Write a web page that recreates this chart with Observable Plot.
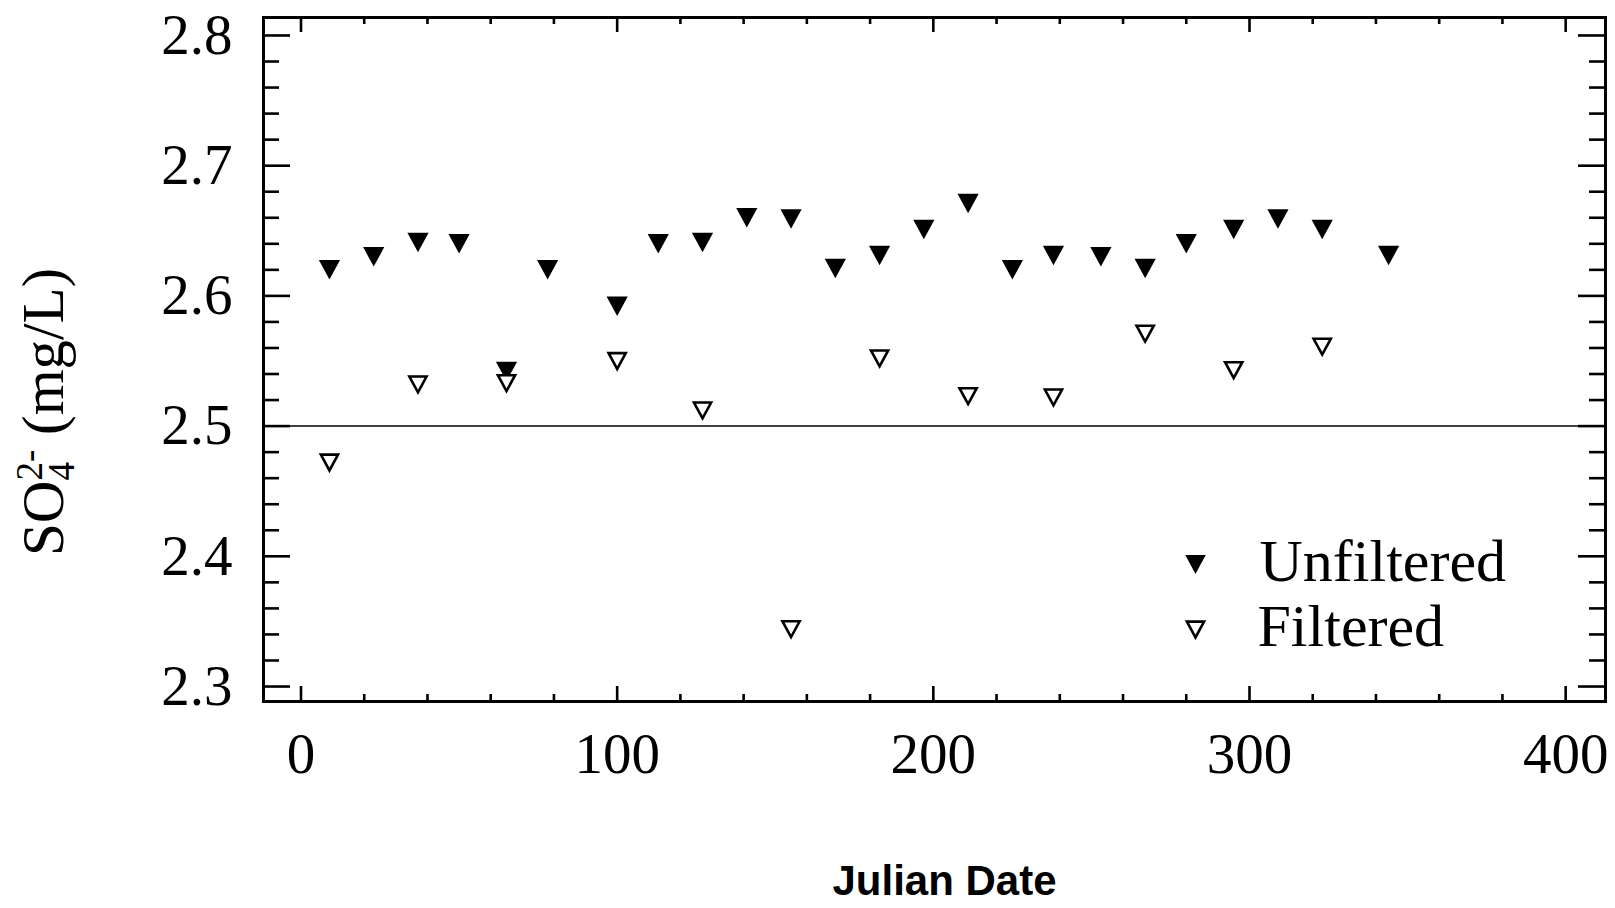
<!DOCTYPE html>
<html><head><meta charset="utf-8">
<script src="https://cdn.jsdelivr.net/npm/d3@7"></script>
<script src="https://cdn.jsdelivr.net/npm/@observablehq/plot@0.6"></script>
<style>html,body{margin:0;padding:0;background:#fff;overflow:hidden}#chart{width:1615px;height:908px;position:relative}</style>
</head><body><div id="chart"></div>
<script>
// ---- data ----
const unfilteredDays = [9, 23, 37, 50, 65, 78, 100, 113, 127, 141, 155, 169, 183, 197, 211, 225, 238, 253, 267, 280, 295, 309, 323, 344];
const unfilteredSO4  = [2.620, 2.630, 2.641, 2.640, 2.542, 2.620, 2.592, 2.640, 2.641, 2.660, 2.659, 2.621, 2.631, 2.651, 2.671, 2.620, 2.631, 2.630, 2.621, 2.640, 2.651, 2.659, 2.651, 2.631];
const filteredDays = [9, 37, 65, 100, 127, 155, 183, 211, 238, 267, 295, 323];
const filteredSO4  = [2.472, 2.532, 2.533, 2.550, 2.512, 2.344, 2.552, 2.523, 2.522, 2.571, 2.543, 2.561];
const referenceLevel = [2.5];
const xMajorTicks = [0, 100, 200, 300, 400];
const xMinorTicks = [20, 40, 60, 80, 120, 140, 160, 180, 220, 240, 260, 280, 320, 340, 360, 380];
const yMajorTicks = [2.3, 2.4, 2.5, 2.6, 2.7, 2.8];
const yMinorTicks = [2.32, 2.34, 2.36, 2.38, 2.42, 2.44, 2.46, 2.48, 2.52, 2.54, 2.56, 2.58, 2.62, 2.64, 2.66, 2.68, 2.72, 2.74, 2.76, 2.78];
const legendLabels = ["Unfiltered", "Filtered"];
const xTitle = "Julian Date";

// ---- layout ----
const W = 1615, H = 908;
const mL = 263, mR = 10, mT = 17, mB = 207;
const frameW = W - mL - mR, frameH = H - mT - mB;
const serif = "Liberation Serif, Times New Roman, serif";

// downward-pointing triangle symbol
const triDown = {
  draw(context, size) {
    const r = Math.sqrt(size / Math.PI);
    const h = 2 * r * 0.92;
    context.moveTo(-r, -h / 2);
    context.lineTo(r, -h / 2);
    context.lineTo(0, h / 2);
    context.closePath();
  }
};

const unfiltered = unfilteredDays.map((d, i) => ({day: d, so4: unfilteredSO4[i]}));
const filtered = filteredDays.map((d, i) => ({day: d, so4: filteredSO4[i]}));

const tickStyle = {stroke: "black", strokeWidth: 2.6};

const plot = Plot.plot({
  width: W, height: H,
  marginLeft: mL, marginRight: mR, marginTop: mT, marginBottom: mB,
  style: {background: "white", fontFamily: serif, color: "black"},
  x: {domain: [-11.86, 412.6], axis: null},
  y: {domain: [2.2885, 2.8138], axis: null},
  marks: [
    // reference line
    Plot.ruleY(referenceLevel, {stroke: "black", strokeWidth: 1.5}),
    // ticks: bottom / top
    Plot.tickX(xMajorTicks, {x: d => d, insetTop: frameH - 15, ...tickStyle}),
    Plot.tickX(xMinorTicks, {x: d => d, insetTop: frameH - 7, ...tickStyle}),
    Plot.tickX(xMajorTicks, {x: d => d, insetBottom: frameH - 15, ...tickStyle}),
    Plot.tickX(xMinorTicks, {x: d => d, insetBottom: frameH - 7, ...tickStyle}),
    // ticks: left / right
    Plot.tickY(yMajorTicks, {y: d => d, insetRight: frameW - 27, ...tickStyle}),
    Plot.tickY(yMinorTicks, {y: d => d, insetRight: frameW - 16, ...tickStyle}),
    Plot.tickY(yMajorTicks, {y: d => d, insetLeft: frameW - 27, ...tickStyle}),
    Plot.tickY(yMinorTicks, {y: d => d, insetLeft: frameW - 16, ...tickStyle}),
    Plot.frame({stroke: "black", strokeWidth: 3}),
    // tick labels
    Plot.text(xMajorTicks, {x: d => d, text: d => String(d), frameAnchor: "bottom", lineAnchor: "top", dy: 31, fontSize: 57, fontFamily: serif, fill: "black"}),
    Plot.text(yMajorTicks, {y: d => d, text: d => d.toFixed(1), frameAnchor: "left", textAnchor: "end", lineAnchor: "middle", dx: -31, fontSize: 57, fontFamily: serif, fill: "black"}),
    // x title
    Plot.text([xTitle], {text: d => d, frameAnchor: "bottom", lineAnchor: "middle", dx: 10, dy: 180, fontSize: 42, fontWeight: "bold", fontFamily: "Liberation Sans, Arial, sans-serif", fill: "black"}),
    // data
    Plot.dot(unfiltered, {x: "day", y: "so4", symbol: triDown, r: 10.6, fill: "black", stroke: "none"}),
    Plot.dot(filtered, {x: "day", y: "so4", symbol: triDown, r: 8.6, fill: "white", stroke: "black", strokeWidth: 2.6, strokeLinejoin: "miter"}),
    // legend
    Plot.dot([legendLabels[0]], {frameAnchor: "top-left", dx: 932, dy: 547, symbol: triDown, r: 10.2, fill: "black", stroke: "none"}),
    Plot.text([legendLabels[0]], {text: d => d, frameAnchor: "top-left", dx: 996, dy: 544, textAnchor: "start", lineAnchor: "middle", fontSize: 60, fontFamily: serif, fill: "black"}),
    Plot.dot([legendLabels[1]], {frameAnchor: "top-left", dx: 932, dy: 612, symbol: triDown, r: 8.6, fill: "white", stroke: "black", strokeWidth: 2.6}),
    Plot.text([legendLabels[1]], {text: d => d, frameAnchor: "top-left", dx: 994, dy: 609, textAnchor: "start", lineAnchor: "middle", fontSize: 60, fontFamily: serif, fill: "black"})
  ]
});

document.getElementById("chart").appendChild(plot);

// y-axis title with sub/superscript
const svg = d3.select(plot);
const t = svg.append("text")
  .attr("transform", "translate(63,556) rotate(-90)")
  .attr("text-anchor", "start")
  .attr("font-family", serif)
  .attr("font-size", 59)
  .attr("fill", "black")
  .style("white-space", "pre");
t.append("tspan").text("SO");
t.append("tspan").attr("font-size", 37).attr("dy", 11).text("4");
t.append("tspan").attr("font-size", 37).attr("dx", -18.5).attr("dy", -32).text("2-");
t.append("tspan").attr("dy", 21).text(" (mg/L)");
</script>
</body></html>
